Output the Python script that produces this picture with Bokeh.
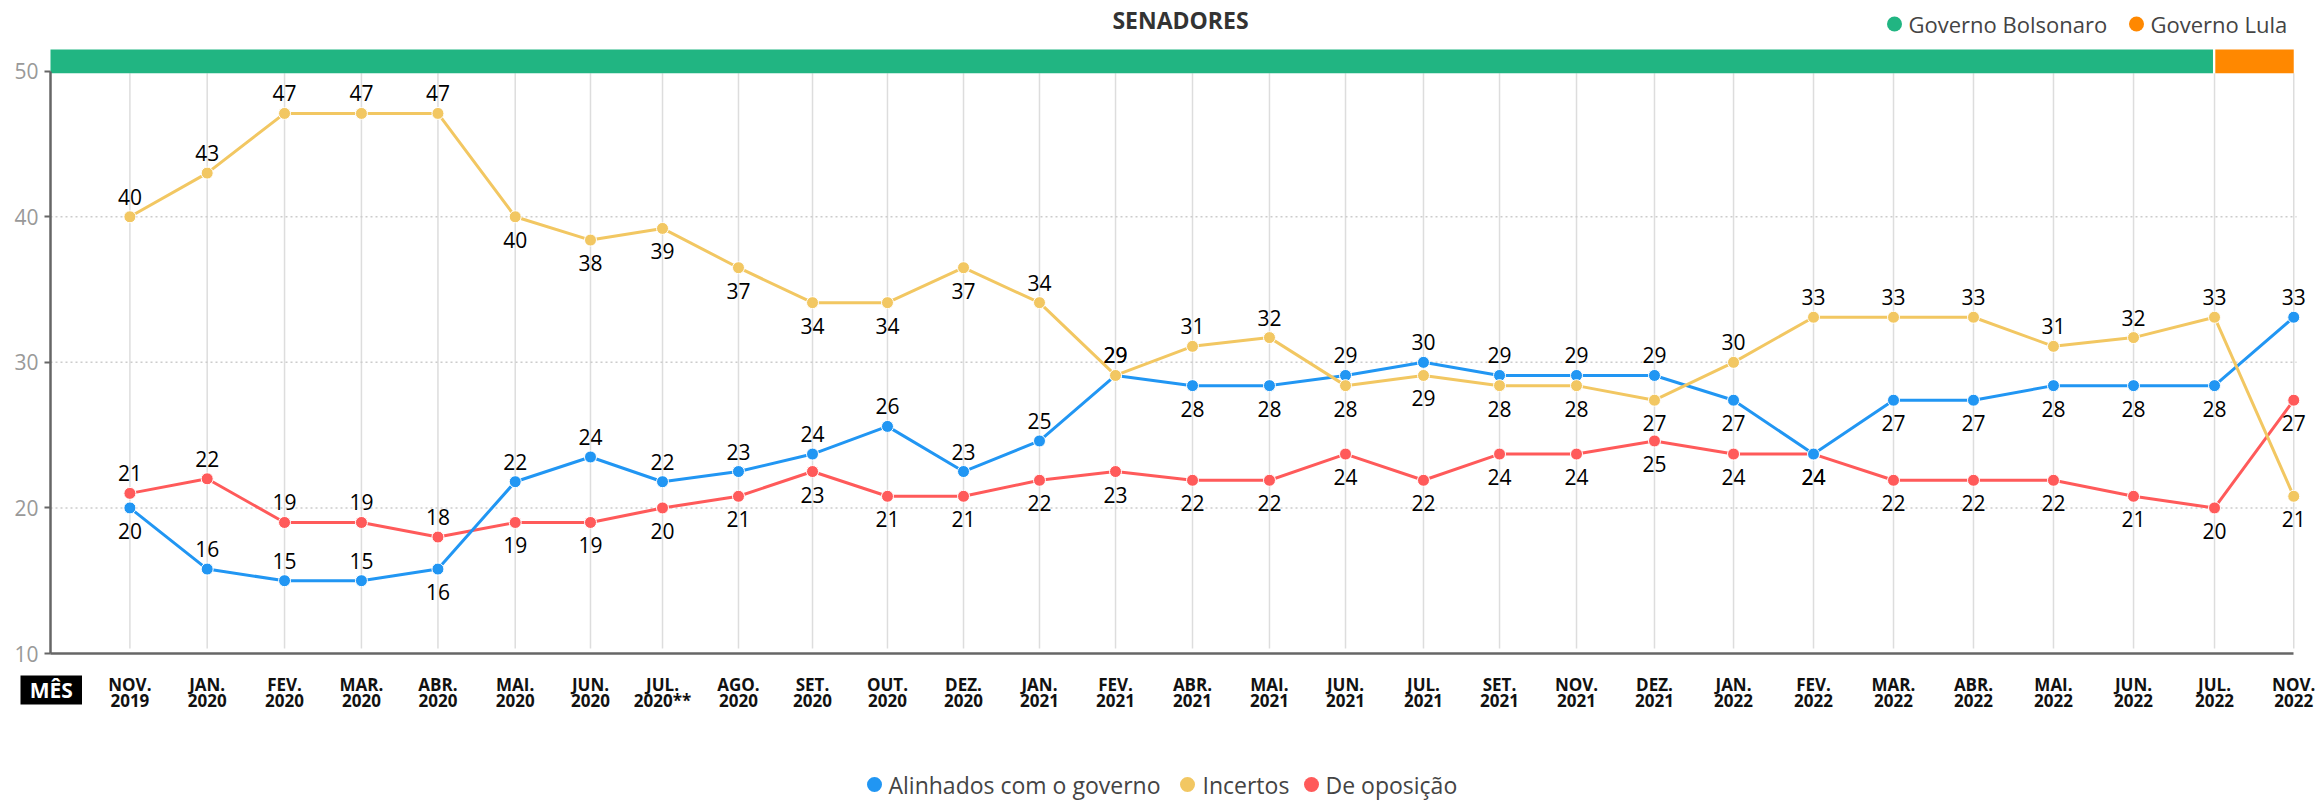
from bokeh.plotting import figure
from bokeh.models import Range1d, FixedTicker, ColumnDataSource
from bokeh.embed import file_html
from bokeh.resources import INLINE
from bokeh.core.properties import value

# ---------------- data ----------------
meses = ["NOV.\n2019", "JAN.\n2020", "FEV.\n2020", "MAR.\n2020", "ABR.\n2020",
         "MAI.\n2020", "JUN.\n2020", "JUL.\n2020**", "AGO.\n2020", "SET.\n2020",
         "OUT.\n2020", "DEZ.\n2020", "JAN.\n2021", "FEV.\n2021", "ABR.\n2021",
         "MAI.\n2021", "JUN.\n2021", "JUL.\n2021", "SET.\n2021", "NOV.\n2021",
         "DEZ.\n2021", "JAN.\n2022", "FEV.\n2022", "MAR.\n2022", "ABR.\n2022",
         "MAI.\n2022", "JUN.\n2022", "JUL.\n2022", "NOV.\n2022"]

# position of each survey along the x axis
posicao_x = [0.0, 1.0, 2.001, 2.996, 3.986, 4.986, 5.96, 6.892, 7.875, 8.833,
             9.803, 10.787, 11.77, 12.754, 13.75, 14.746, 15.73, 16.739, 17.723,
             18.719, 19.728, 20.751, 21.786, 22.821, 23.856, 24.891, 25.927,
             26.975, 28.0]

alinhados = [20.0, 15.8, 15.0, 15.0, 15.8, 21.8, 23.5, 21.8, 22.5, 23.7,
             25.6, 22.5, 24.6, 29.1, 28.4, 28.4, 29.1, 30.0, 29.1, 29.1,
             29.1, 27.4, 23.7, 27.4, 27.4, 28.4, 28.4, 28.4, 33.1]
incertos = [40.0, 43.0, 47.1, 47.1, 47.1, 40.0, 38.4, 39.2, 36.5, 34.1,
            34.1, 36.5, 34.1, 29.1, 31.1, 31.7, 28.4, 29.1, 28.4, 28.4,
            27.4, 30.0, 33.1, 33.1, 33.1, 31.1, 31.7, 33.1, 20.8]
oposicao = [21.0, 22.0, 19.0, 19.0, 18.0, 19.0, 19.0, 20.0, 20.8, 22.5,
            20.8, 20.8, 21.9, 22.5, 21.9, 21.9, 23.7, 21.9, 23.7, 23.7,
            24.6, 23.7, 23.7, 21.9, 21.9, 21.9, 20.8, 20.0, 27.4]

series_nomes = ["Alinhados com o governo", "Incertos", "De oposição"]

governos = ["Governo Bolsonaro", "Governo Lula"]
governo_fim = ["JUL.\n2022", "NOV.\n2022"]

y_ticks = [10, 20, 30, 40, 50]

# label placement (1 = above the point, -1 = below)
lado_alinhados = [-1, 1, 1, 1, -1, 1, 1, 1, 1, 1, 1, 1, 1, 1, -1, -1, 1, 1, 1, 1,
                  1, -1, -1, -1, -1, -1, -1, -1, 1]
lado_incertos = [1, 1, 1, 1, 1, -1, -1, -1, -1, -1, -1, -1, 1, 1, 1, 1, -1, -1, -1, -1,
                 -1, 1, 1, 1, 1, 1, 1, 1, -1]
lado_oposicao = [1, 1, 1, 1, 1, -1, -1, -1, -1, -1, -1, -1, -1, -1, -1, -1, -1, -1, -1, -1,
                 -1, -1, -1, -1, -1, -1, -1, -1, -1]

# ---------------- style / layout ----------------
AZUL = "#2196f3"
AMARELO = "#f2c762"
VERMELHO = "#ff5a5a"
VERDE = "#21b582"
LARANJA = "#ff8800"
FONT = "Open Sans"

W, H = 2323, 800
PX = 77.28          # px per x unit
PY = 14.5575        # px per y unit
FIRST = 129.4       # canvas x of first survey
AXIS_X = 50         # canvas x of the y axis line
AXIS_Y = 653        # canvas y of the value 10

X0 = -FIRST / PX
X1 = (W - FIRST) / PX
AX = -(FIRST - AXIS_X) / PX
Y1 = y_ticks[0] + AXIS_Y / PY
Y0 = y_ticks[0] - (H - AXIS_Y) / PY


def dx(cx):
    return X0 + cx / PX


def dy(cy):
    return Y1 - cy / PY


p = figure(width=W, height=H, output_backend="svg", toolbar_location=None,
           x_range=Range1d(X0, X1), y_range=Range1d(Y0, Y1),
           min_border=0, min_border_left=0, min_border_right=0,
           min_border_top=0, min_border_bottom=0, title=None)
p.outline_line_color = None
p.background_fill_color = "white"
p.border_fill_color = "white"
p.xgrid.visible = False
p.ygrid.visible = False

xs = posicao_x
x_last = xs[-1]

# axes (drawn inside the frame at fixed positions)
xa = p.xaxis[0]
xa.fixed_location = y_ticks[0]
xa.bounds = (AX, x_last)
xa.ticker = FixedTicker(ticks=xs)
xa.major_label_overrides = {x: m for x, m in zip(xs, meses)}
xa.major_label_text_font = FONT
xa.major_label_text_font_style = "bold"
xa.major_label_text_font_size = "17px"
xa.major_label_text_line_height = 0.72
xa.major_label_text_color = "#111111"
xa.major_label_standoff = 13
xa.major_tick_line_color = None
xa.minor_tick_line_color = None
xa.axis_line_color = "#666666"
xa.axis_line_width = 2.5

ya = p.yaxis[0]
ya.fixed_location = AX
ya.bounds = (y_ticks[0], y_ticks[-1])
ya.ticker = FixedTicker(ticks=y_ticks)
ya.major_label_text_font = FONT
ya.major_label_text_font_size = "21px"
ya.major_label_text_color = "#999999"
ya.major_label_standoff = 6
ya.major_tick_out = 6
ya.major_tick_in = 0
ya.major_tick_line_color = "#666666"
ya.major_tick_line_width = 2
ya.minor_tick_line_color = None
ya.axis_line_color = "#666666"
ya.axis_line_width = 2.5

# grid lines
bar_bottom = dy(72.7)
bar_top = dy(49)
p.segment(x0=xs, x1=xs, y0=[dy(648)] * len(xs), y1=[bar_bottom] * len(xs),
          line_color="#dddddd", line_width=1.5)
gy = y_ticks[1:-1]
p.segment(x0=[AX] * len(gy), x1=[dx(2296)] * len(gy), y0=gy, y1=gy,
          line_color="#cccccc", line_width=1.5, line_dash="2 3")

# government band on top
fim_x = [xs[meses.index(m)] for m in governo_fim]
p.quad(left=[AX], right=[fim_x[0] - 0.02], bottom=[bar_bottom], top=[bar_top],
       fill_color=VERDE, line_color=None)
p.quad(left=[fim_x[0] + 0.01], right=[fim_x[1]], bottom=[bar_bottom], top=[bar_top],
       fill_color=LARANJA, line_color=None)

# series (drawing order: opposition, aligned, uncertain)
for vals, cor in [(oposicao, VERMELHO), (alinhados, AZUL), (incertos, AMARELO)]:
    p.line(xs, vals, line_color=cor, line_width=3)
    p.scatter(xs, vals, size=12, fill_color=cor, line_color="white", line_width=1)


def fmt(v):
    return str(int(v + 0.5))


for vals, lados in [(oposicao, lado_oposicao), (alinhados, lado_alinhados),
                    (incertos, lado_incertos)]:
    src = ColumnDataSource(dict(
        x=xs, y=vals, t=[fmt(v) for v in vals],
        off=[-20 if s > 0 else 23 for s in lados]))
    p.text(x="x", y="y", text="t", y_offset="off", source=src,
           text_align="center", text_baseline="middle",
           text_font=value(FONT), text_font_size="21px", text_color="#000000")

# title
p.text(x=[dx(1180)], y=[dy(19.5)], text=["SENADORES"], text_align="center",
       text_baseline="middle", text_font=value(FONT), text_font_style="bold",
       text_font_size="23px", text_color="#333333")

# top legend (governments)
for nome, cor, xd, xt in [(governos[0], VERDE, 1894, 1908), (governos[1], LARANJA, 2136, 2150)]:
    p.scatter(x=[dx(xd)], y=[dy(23.5)], size=15, fill_color=cor, line_color=None)
    p.text(x=[dx(xt)], y=[dy(23.5)], text=[nome], text_align="left",
           text_baseline="middle", text_font=value(FONT), text_font_size="22px",
           text_color="#444444")

# bottom legend (series)
for nome, cor, xd, xt in [(series_nomes[0], AZUL, 874, 888),
                          (series_nomes[1], AMARELO, 1187, 1202),
                          (series_nomes[2], VERMELHO, 1311, 1325)]:
    p.scatter(x=[dx(xd)], y=[dy(784)], size=15, fill_color=cor, line_color=None)
    p.text(x=[dx(xt)], y=[dy(784)], text=[nome], text_align="left",
           text_baseline="middle", text_font=value(FONT), text_font_size="23px",
           text_color="#444444")

# "MÊS" box
p.quad(left=[dx(20)], right=[dx(81.5)], top=[dy(675)], bottom=[dy(704)],
       fill_color="black", line_color=None)
p.text(x=[dx(50.75)], y=[dy(689.5)], text=["MÊS"], text_align="center",
       text_baseline="middle", text_font=value(FONT), text_font_style="bold",
       text_font_size="21px", text_color="white")

open("out.html", "w").write(file_html(p, INLINE))
